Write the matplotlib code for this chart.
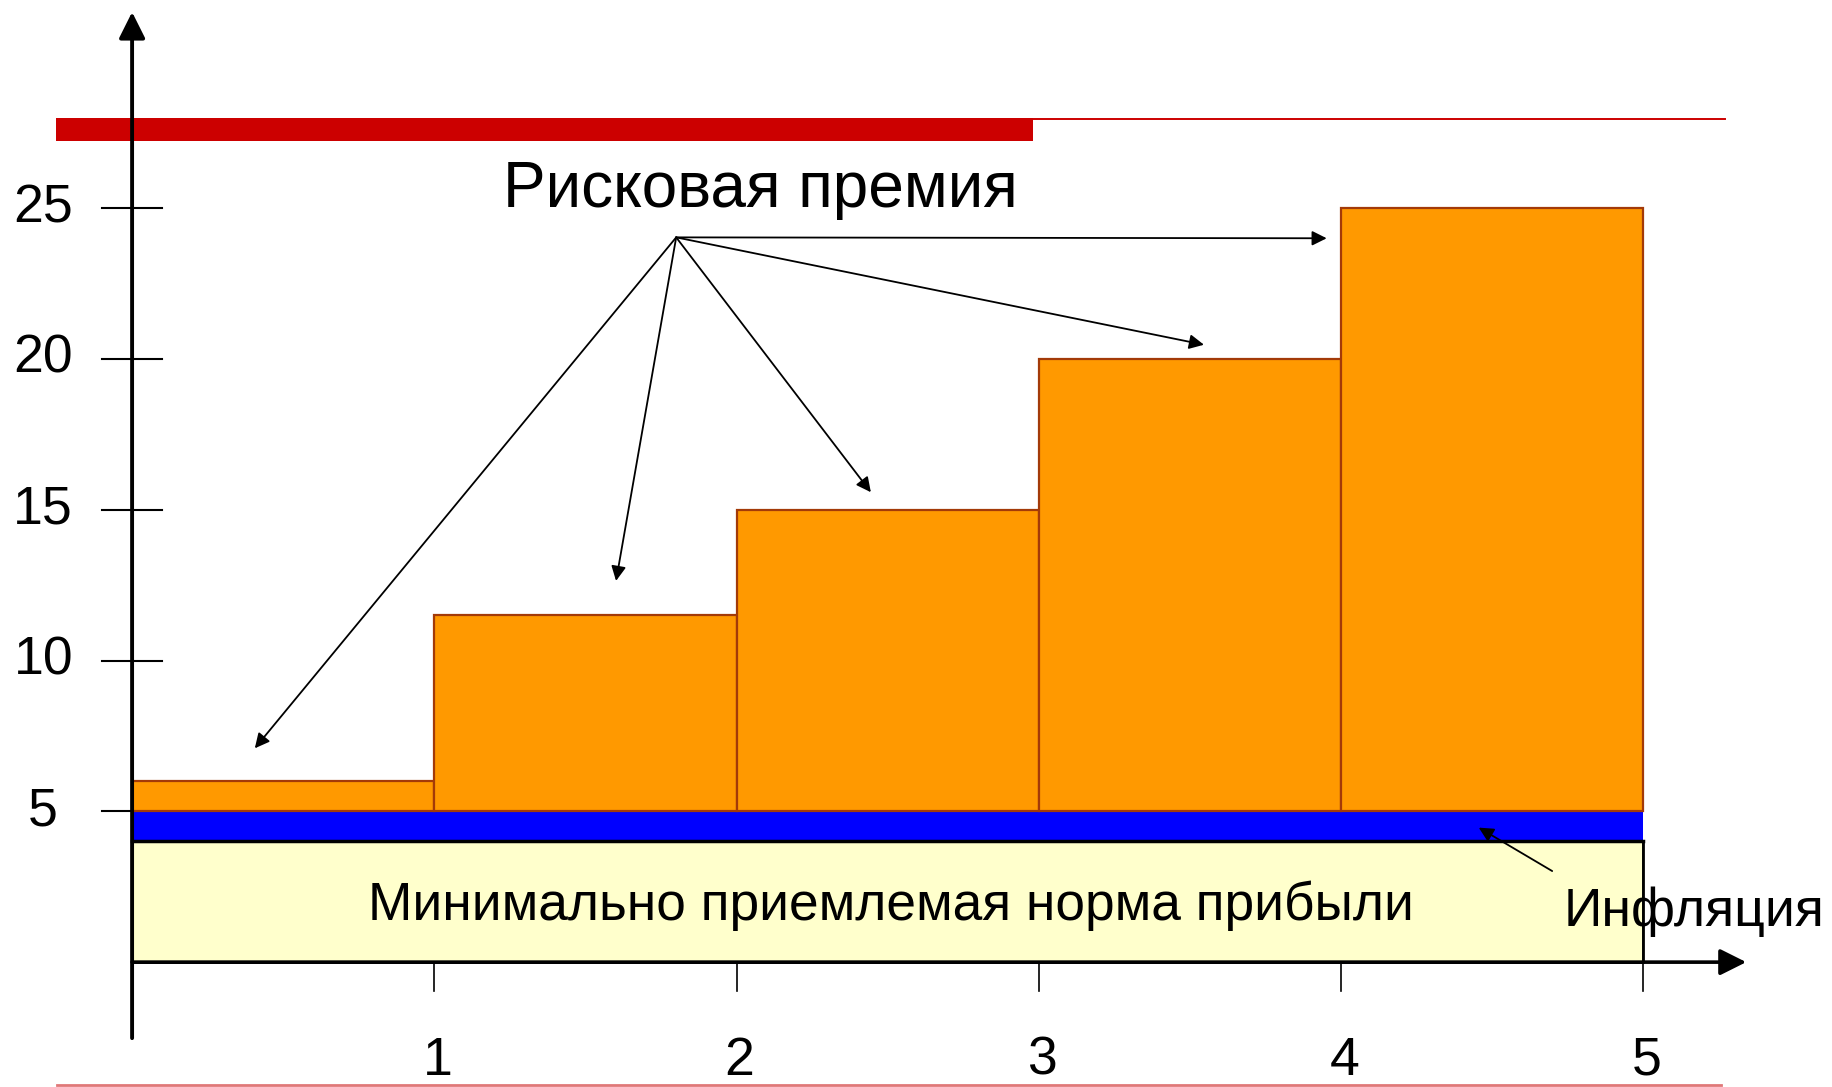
import numpy as np
import matplotlib
matplotlib.use("Agg")
import matplotlib.pyplot as plt

plt.rcParams['font.family'] = ['Liberation Sans', 'DejaVu Sans']

# periods and the required return stacked from its parts
periods = [1, 2, 3, 4, 5]
total_rate = [6, 11.5, 15, 20, 25]
min_rate = 4          # minimum acceptable rate of return
inflation = 1         # inflation premium on top of it
y_ticks = [5, 10, 15, 20, 25]
x_ticks = [1, 2, 3, 4, 5]

title = "Рисковая премия"
base_label = "Минимально приемлемая норма прибыли"
infl_label = "Инфляция"

orange = "#FF9900"
orange_edge = "#A33A08"
blue = "#0000FF"
cream = "#FFFFCC"
red = "#CC0000"

fig = plt.figure(figsize=(18.33, 10.87), dpi=100)
ax = fig.add_axes([0, 0, 1, 1])
ax.set_xlim(-0.437, 5.627)
ax.set_ylim(-4.14, 31.9)
ax.axis('off')

n = len(periods)
x = np.array(periods) - 0.5
base_top = min_rate + inflation

# base layers: minimum rate and inflation
ax.bar(n / 2, min_rate, width=n, bottom=0, color=cream, edgecolor='black',
       linewidth=2, zorder=2)
ax.bar(n / 2, inflation, width=n, bottom=min_rate, color=blue, linewidth=0,
       zorder=2)
ax.plot([0, n], [min_rate, min_rate], color='black', lw=2.5, zorder=3)

# risk premium steps
premium = np.array(total_rate) - base_top
ax.bar(x, premium, width=1, bottom=base_top, color=orange,
       edgecolor=orange_edge, linewidth=1.6, zorder=3)

# tick marks
for t in y_ticks:
    ax.plot([-0.1, 0.1], [t, t], color='black', lw=1.5, zorder=1)
    ax.text(-0.294, t, str(t), ha='center', va='center', fontsize=38.5)
for t in x_ticks:
    ax.plot([t, t], [0, -0.97], color='black', lw=1.2, zorder=1)
    ax.text(t + 0.01, -3.74, str(t), ha='center', va='baseline', fontsize=38.5)
ax.plot([n, n], [0, min_rate], color='black', lw=1.2, zorder=4)

# axes with arrow heads
ax.annotate('', xy=(0, 31.5), xytext=(0, -2.52),
            arrowprops=dict(arrowstyle='-|>', color='black', lw=2.8,
                            mutation_scale=40, shrinkA=0, shrinkB=0),
            zorder=6)
ax.annotate('', xy=(5.34, 0), xytext=(0, 0),
            arrowprops=dict(arrowstyle='-|>', color='black', lw=2.6,
                            mutation_scale=40, shrinkA=0, shrinkB=0),
            zorder=6)

# red rules at the top and bottom
ax.fill_between([-0.251, 2.98], 27.22, 27.99, color=red, linewidth=0, zorder=1)
ax.plot([2.98, 5.27], [27.96, 27.96], color=red, lw=1.4, zorder=1)
ax.plot([-0.25, 5.255], [-4.09, -4.09], color="#E07878", lw=2, zorder=1)

# labels and pointers
ax.text(2.077, 25.6, title, ha='center', va='center', fontsize=46)
origin = (1.8, 24.03)
targets = [(0.406, 7.09), (1.601, 12.64), (2.444, 15.58),
           (3.546, 20.47), (3.952, 24.0)]
for tx, ty in targets:
    ax.annotate('', xy=(tx, ty), xytext=origin,
                arrowprops=dict(arrowstyle='-|>', color='black', lw=1.3,
                                mutation_scale=22, shrinkA=0, shrinkB=0),
                zorder=5)

ax.text(2.51, 1.86, base_label, ha='center', va='center', fontsize=38.3, zorder=5)
ax.text(4.737, 1.67, infl_label, ha='left', va='center', fontsize=38.5, zorder=5)
ax.annotate('', xy=(4.455, 4.46), xytext=(4.698, 3.02),
            arrowprops=dict(arrowstyle='-|>', color='black', lw=1.3,
                            mutation_scale=22, shrinkA=0, shrinkB=0),
            zorder=5)

fig.savefig("out.png", dpi=100)
